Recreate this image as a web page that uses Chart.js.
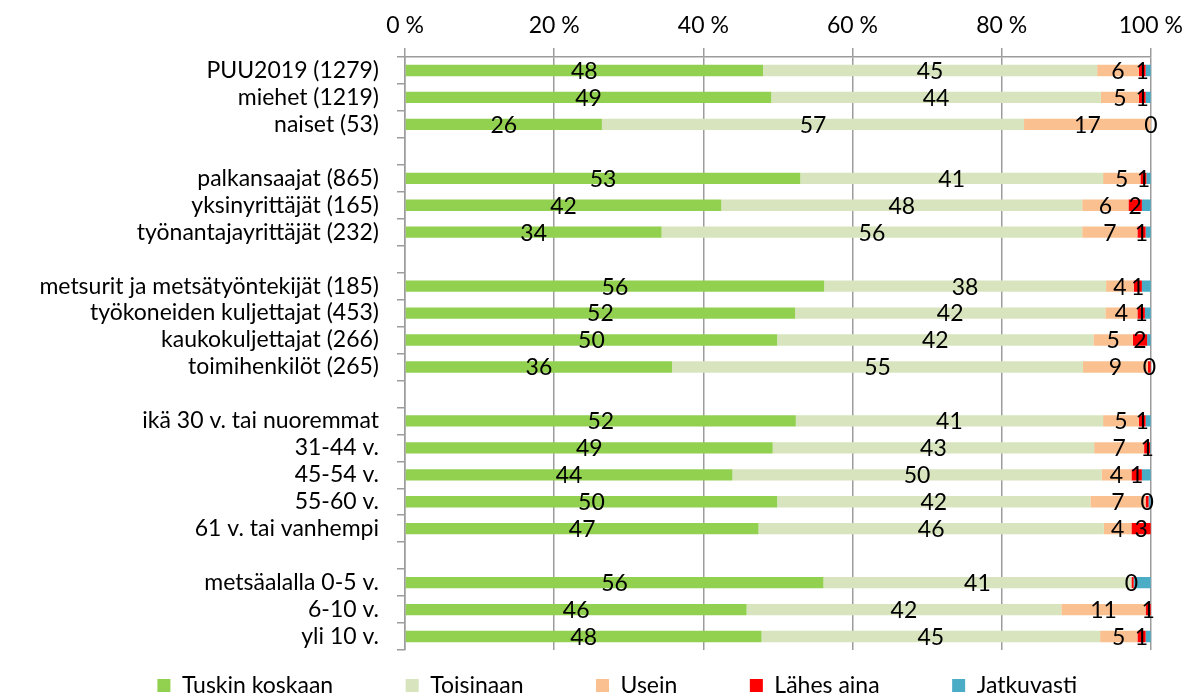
<!DOCTYPE html>
<html>
<head>
<meta charset="utf-8">
<script src="https://cdn.jsdelivr.net/npm/chart.js@4/dist/chart.umd.min.js"></script>
<style>
  html, body { margin: 0; padding: 0; background: #fff; }
  #wrap { width: 1192px; height: 699px; position: relative; }
</style>
</head>
<body>
<div id="wrap"><canvas id="c"></canvas></div>
<script>
// ---- data ----
const categories = [
  'PUU2019 (1279)', 'miehet (1219)', 'naiset (53)', '',
  'palkansaajat (865)', 'yksinyrittäjät (165)', 'työnantajayrittäjät (232)', '',
  'metsurit ja metsätyöntekijät (185)', 'työkoneiden kuljettajat (453)', 'kaukokuljettajat (266)', 'toimihenkilöt (265)', '',
  'ikä 30 v. tai nuoremmat', '31-44 v.', '45-54 v.', '55-60 v.', '61 v. tai vanhempi', '',
  'metsäalalla 0-5 v.', '6-10 v.', 'yli 10 v.'
];
const seriesNames = ['Tuskin koskaan', 'Toisinaan', 'Usein', 'Lähes aina', 'Jatkuvasti'];
const tuskinKoskaan = [48.0, 49.1, 26.4, null, 53.0, 42.4, 34.4, null, 56.2, 52.3, 49.9, 35.8, null, 52.4, 49.3, 43.9, 49.9, 47.4, null, 56.1, 45.8, 47.8];
const toisinaan     = [44.8, 44.2, 56.6, null, 40.6, 48.4, 56.4, null, 37.8, 41.6, 42.4, 55.1, null, 41.2, 43.1, 49.5, 42.0, 46.3, null, 41.3, 42.2, 45.4];
const usein         = [5.6, 5.1, 17.0, null, 5.0, 6.2, 7.4, null, 3.7, 4.3, 5.3, 8.7, null, 4.8, 6.7, 4.0, 7.4, 3.7, null, 0, 11.3, 5.0];
const lahesAina     = [0.9, 0.9, 0, null, 0.8, 1.8, 1.1, null, 1.1, 1.0, 1.9, 0.4, null, 0.9, 0.8, 1.4, 0.4, 2.6, null, 0.3, 0.7, 1.1];
const jatkuvasti    = [0.7, 0.7, 0, null, 0.6, 1.2, 0.7, null, 1.2, 0.8, 0.5, 0, null, 0.7, 0.1, 1.2, 0.3, 0, null, 2.3, 0, 0.7];
const xTicks = [0, 20, 40, 60, 80, 100];

const colors = ['#92D050', '#D7E4BD', '#FAC090', '#FF0000', '#4BACC6'];
const FONT = 'Lato, "Open Sans", sans-serif';
const FS = 23;
const GRID = '#9c9c9c';

const seriesData = [tuskinKoskaan, toisinaan, usein, lahesAina, jatkuvasti];
const datasets = seriesData.map((d, i) => ({
  label: seriesNames[i],
  data: d,
  backgroundColor: colors[i],
  borderWidth: 0,
  categoryPercentage: 1.0,
  barPercentage: 0.42,
  showLabel: i < 4
}));

// labels drawn in the centre of each segment
const segmentLabels = {
  id: 'segmentLabels',
  afterDatasetsDraw(chart) {
    const ctx = chart.ctx;
    ctx.save();
    ctx.font = FS + 'px ' + FONT;
    ctx.fillStyle = '#000';
    ctx.textAlign = 'center';
    ctx.textBaseline = 'middle';
    const last = {};
    chart.data.datasets.forEach((ds, di) => {
      if (!ds.showLabel) return;
      const meta = chart.getDatasetMeta(di);
      meta.data.forEach((el, idx) => {
        const v = ds.data[idx];
        if (v === null || v === undefined) return;
        const p = el.getProps(['x', 'base', 'y'], true);
        const txt = String(Math.round(v));
        const cx = (p.x + p.base) / 2;
        const prev = last[idx];
        if (prev && prev.txt === txt && Math.abs(prev.x - cx) < 4) return;
        ctx.fillText(txt, cx, p.y + 1);
        last[idx] = { txt, x: cx };
      });
    });
    ctx.restore();
  }
};

// legend spacing: invisible spacer items around entries
function legendLabels(chart) {
  const base = Chart.defaults.plugins.legend.labels.generateLabels(chart);
  const spacer = () => ({ text: '', fillStyle: 'rgba(0,0,0,0)', strokeStyle: 'rgba(0,0,0,0)', lineWidth: 0, hidden: false, datasetIndex: -1 });
  const out = [spacer()];
  base.forEach((it, i) => {
    it.lineWidth = 0;
    it.strokeStyle = 'rgba(0,0,0,0)';
    out.push(it);
    if (i < base.length - 1) out.push(spacer());
  });
  return out;
}

new Chart(document.getElementById('c'), {
  type: 'bar',
  data: { labels: categories, datasets },
  plugins: [segmentLabels],
  options: {
    indexAxis: 'y',
    responsive: true,
    maintainAspectRatio: false,
    animation: false,
    layout: { padding: { left: 5, right: 11, top: 0, bottom: -8 } },
    plugins: {
      tooltip: { enabled: false },
      legend: {
        position: 'bottom',
        onClick: () => {},
        labels: {
          boxWidth: 13,
          boxHeight: 13,
          padding: 24,
          color: '#000',
          font: { family: FONT, size: FS },
          generateLabels: legendLabels
        }
      }
    },
    scales: {
      x: {
        position: 'top',
        stacked: true,
        min: 0,
        max: 100,
        afterBuildTicks: (s) => { s.ticks = xTicks.map(v => ({ value: v })); },
        afterFit: (s) => { s.height = 57; },
        ticks: {
          color: '#000',
          font: { family: FONT, size: FS },
          padding: 9,
          callback: (v) => v + ' %'
        },
        grid: { color: GRID, lineWidth: 1.5, tickLength: 9, drawTicks: true },
        border: { color: GRID, width: 1.5 }
      },
      y: {
        stacked: true,
        afterFit: (s) => { s.width = 400; },
        ticks: {
          color: '#000',
          font: { family: FONT, size: FS },
          padding: 18,
          autoSkip: false
        },
        grid: { offset: true, drawOnChartArea: false, color: GRID, lineWidth: 1.5, tickLength: 8 },
        border: { color: GRID, width: 1.5 }
      }
    }
  }
});
</script>
</body>
</html>
